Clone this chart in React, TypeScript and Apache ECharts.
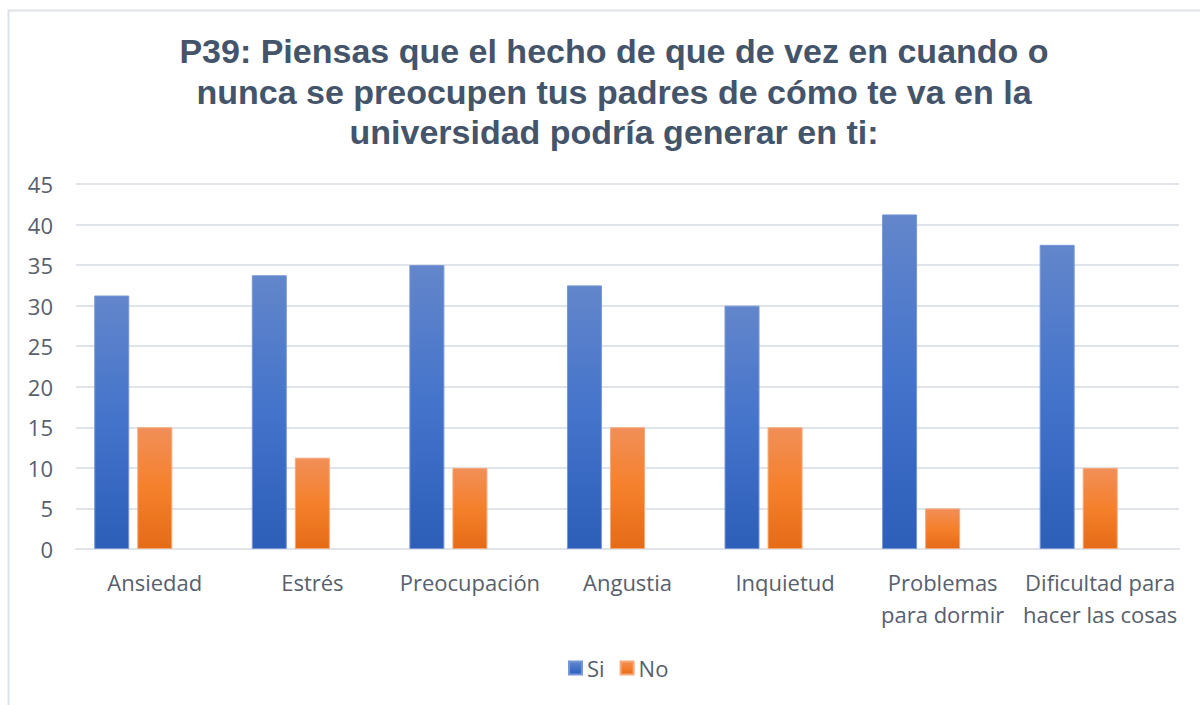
import React, { useEffect, useRef } from "react";
import * as echarts from "echarts";

const titleText =
  "P39: Piensas que el hecho de que de vez en cuando o\nnunca se preocupen tus padres de cómo te va en la\nuniversidad podría generar en ti:";
const categories = [
  "Ansiedad",
  "Estrés",
  "Preocupación",
  "Angustia",
  "Inquietud",
  "Problemas\npara dormir",
  "Dificultad para\nhacer las cosas",
];
const siValues = [31.25, 33.75, 35, 32.5, 30, 41.25, 37.5];
const noValues = [15, 11.25, 10, 15, 15, 5, 10];
const emptyValues = ["-", "-", "-", "-", "-", "-", "-"];
const seriesNames = ["Si", "No"];

const blueGrad = new echarts.graphic.LinearGradient(0, 0, 0, 1, [
  { offset: 0, color: "#6386cb" },
  { offset: 0.5, color: "#4373cb" },
  { offset: 1, color: "#2d5eb8" },
]);
const orangeGrad = new echarts.graphic.LinearGradient(0, 0, 0, 1, [
  { offset: 0, color: "#f18f58" },
  { offset: 0.5, color: "#f5802b" },
  { offset: 1, color: "#e56b17" },
]);

export default function App() {
  const ref = useRef<HTMLDivElement>(null);
  useEffect(() => {
    if (!ref.current) return;
    const chart = echarts.init(ref.current, undefined, { renderer: "svg" });
    const labelColor = "#58606c";
    chart.setOption({
      animation: false,
      backgroundColor: "#ffffff",
      title: {
        text: titleText,
        left: 609,
        top: 26,
        textAlign: "center",
        textStyle: {
          fontFamily: "Liberation Sans",
          fontWeight: "bold",
          fontSize: 34,
          lineHeight: 40.5,
          color: "#44546a",
        },
      },
      graphic: [
        {
          type: "rect",
          shape: { x: 8.5, y: 10.5, width: 1200, height: 700 },
          style: { fill: "none", stroke: "#dde1e8", lineWidth: 2 },
          silent: true,
          z: -1,
        },
      ],
      legend: {
        data: seriesNames,
        left: 563,
        top: 652,
        itemWidth: 13,
        itemHeight: 13,
        itemGap: 15,
        icon: "rect",
        textStyle: {
          fontFamily: "Open Sans",
          fontSize: 22,
          lineHeight: 22,
          color: labelColor,
        },
      },
      grid: { left: 76, right: 21, top: 184, bottom: 156, containLabel: false },
      xAxis: {
        type: "category",
        data: categories,
        axisLine: { show: true, lineStyle: { color: "#dfe3ea", width: 2 } },
        axisTick: { show: false },
        axisLabel: {
          interval: 0,
          margin: 17,
          fontFamily: "Open Sans",
          fontSize: 22,
          lineHeight: 32,
          color: labelColor,
        },
      },
      yAxis: {
        type: "value",
        min: 0,
        max: 45,
        interval: 5,
        axisLine: { show: false },
        axisTick: { show: false },
        splitLine: { lineStyle: { color: "#dfe3ea", width: 2 } },
        axisLabel: {
          margin: 23,
          fontFamily: "Open Sans",
          fontSize: 22,
          color: labelColor,
        },
      },
      series: [
        {
          name: "Si",
          type: "bar",
          data: siValues,
          barWidth: 35,
          barGap: "23%",
          itemStyle: { color: blueGrad, borderColor: "#7796d6", borderWidth: 1 },
        },
        {
          name: "No",
          type: "bar",
          data: noValues,
          barWidth: 35,
          barGap: "23%",
          itemStyle: { color: orangeGrad, borderColor: "#f5a878", borderWidth: 1 },
        },
        {
          name: "",
          type: "bar",
          data: emptyValues,
          barWidth: 35,
          barGap: "23%",
        },
      ],
    });
    return () => chart.dispose();
  }, []);
  return (
    <div
      ref={ref}
      style={{ position: "fixed", left: 0, top: 0, width: 1200, height: 705 }}
    />
  );
}
